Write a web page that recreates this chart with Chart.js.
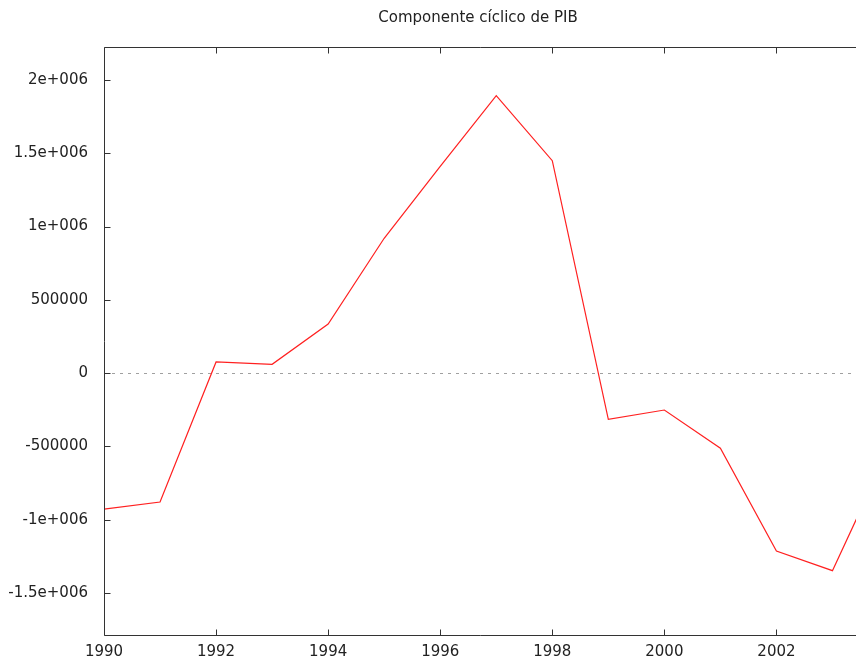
<!DOCTYPE html>
<html>
<head>
<meta charset="utf-8">
<script src="https://cdn.jsdelivr.net/npm/chart.js@4/dist/chart.umd.min.js"></script>
<style>
  html, body { margin: 0; padding: 0; background: #fff; }
  #wrap { width: 856px; height: 663px; }
</style>
</head>
<body>
<div id="wrap"><canvas id="cicloChart"></canvas></div>
<script>
const chartTitle = 'Componente cíclico de PIB';
const years = [1990, 1991, 1992, 1993, 1994, 1995, 1996, 1997, 1998, 1999, 2000, 2001, 2002, 2003, 2004];
const ciclo = [-928000, -880000, 76000, 60000, 335000, 920000, 1410000, 1893000, 1449000, -315000, -252000, -513000, -1214000, -1348000, -525000];
const xTicks = [1990, 1992, 1994, 1996, 1998, 2000, 2002];
const yTicks = [-1500000, -1000000, -500000, 0, 500000, 1000000, 1500000, 2000000];
const yTickLabels = ['-1.5e+006', '-1e+006', '-500000', '0', '500000', '1e+006', '1.5e+006', '2e+006'];

const fontFamily = '"DejaVu Sans", Verdana, sans-serif';

// gnuplot style frame: border, inward ticks, dotted zero line, title
const framePlugin = {
  id: 'frame',
  beforeDatasetsDraw(chart) {
    const { ctx, chartArea: a, scales: { x, y } } = chart;
    ctx.save();
    const y0 = Math.round(y.getPixelForValue(0)) + 0.5;
    ctx.strokeStyle = '#a0a0a0';
    ctx.lineWidth = 1;
    ctx.setLineDash([3, 5]);
    ctx.beginPath();
    ctx.moveTo(a.left, y0);
    ctx.lineTo(a.right, y0);
    ctx.stroke();
    ctx.restore();
  },
  afterDatasetsDraw(chart) {
    const { ctx, chartArea: a, scales: { x, y } } = chart;
    ctx.save();
    ctx.strokeStyle = '#333';
    ctx.lineWidth = 1;
    ctx.beginPath();
    const l = Math.round(a.left) + 0.5, t = Math.round(a.top) + 0.5, b = Math.round(a.bottom) + 0.5;
    ctx.moveTo(a.right + 1, t);
    ctx.lineTo(l, t);
    ctx.lineTo(l, b);
    ctx.lineTo(a.right + 1, b);
    yTicks.forEach(v => {
      const py = Math.round(y.getPixelForValue(v)) + 0.5;
      ctx.moveTo(l, py);
      ctx.lineTo(l + 6, py);
    });
    xTicks.forEach(v => {
      const px = Math.round(x.getPixelForValue(v)) + 0.5;
      ctx.moveTo(px, b);
      ctx.lineTo(px, b - 6);
      ctx.moveTo(px, t);
      ctx.lineTo(px, t + 6);
    });
    ctx.stroke();
    ctx.fillStyle = '#222';
    ctx.font = '15px ' + fontFamily;
    ctx.textAlign = 'center';
    ctx.textBaseline = 'middle';
    ctx.fillText(chartTitle, 478, 18);
    ctx.restore();
  }
};

const ctx = document.getElementById('cicloChart').getContext('2d');
new Chart(ctx, {
  type: 'line',
  data: {
    datasets: [{
      label: 'ciclo',
      data: years.map((yr, i) => ({ x: yr, y: ciclo[i] })),
      borderColor: '#ff2020',
      borderWidth: 1.2,
      pointRadius: 0,
      tension: 0,
      fill: false
    }]
  },
  options: {
    responsive: true,
    maintainAspectRatio: false,
    animation: false,
    layout: { padding: { top: 47, right: 0, left: 0, bottom: 0 } },
    plugins: {
      legend: { display: false },
      tooltip: { enabled: false }
    },
    scales: {
      x: {
        type: 'linear',
        min: 1990,
        max: 2003.42,
        afterBuildTicks(scale) { scale.ticks = xTicks.map(v => ({ value: v })); },
        afterFit(scale) { scale.height = 28; },
        grid: { display: false, drawTicks: false },
        border: { display: false },
        ticks: {
          autoSkip: false,
          maxRotation: 0,
          padding: 8,
          color: '#222',
          font: { family: fontFamily, size: 15 },
          callback: v => String(v)
        }
      },
      y: {
        min: -1787000,
        max: 2225000,
        afterBuildTicks(scale) { scale.ticks = yTicks.map(v => ({ value: v })); },
        afterFit(scale) { scale.width = 104; },
        grid: { display: false, drawTicks: false },
        border: { display: false },
        ticks: {
          padding: 16,
          color: '#222',
          font: { family: fontFamily, size: 15 },
          callback: v => yTickLabels[yTicks.indexOf(v)]
        }
      }
    }
  },
  plugins: [framePlugin]
});
</script>
</body>
</html>
